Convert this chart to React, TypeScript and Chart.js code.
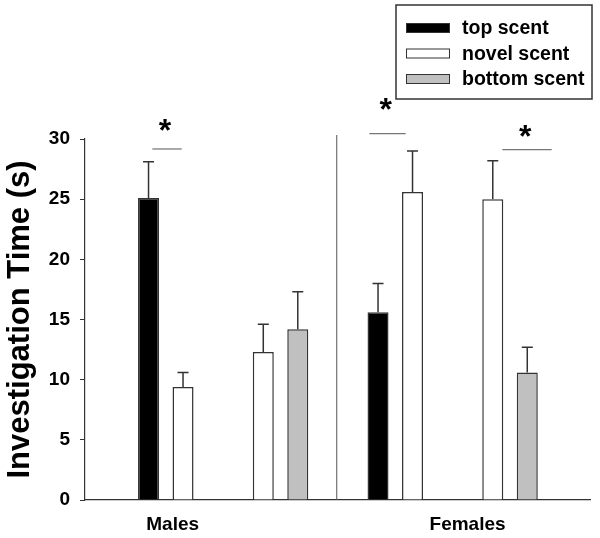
import React, { useEffect, useRef } from 'react';
import { Chart, registerables } from 'chart.js';

Chart.register(...registerables);

// ---- data ----
const seriesNames = ['top scent', 'novel scent', 'bottom scent'];
const subgroupIndex = [0, 1, 2, 3];
const topScent = [25.1, null, 15.6, null];
const topScentErr = [3.0, null, 2.4, null];
const novelScent = [9.4, 12.3, 25.6, 25.0];
const novelScentErr = [1.2, 2.3, 3.4, 3.2];
const bottomScent = [null, 14.2, null, 10.6];
const bottomScentErr = [null, 3.1, null, 2.1];
const groupLabels = ['Males', 'Females'];
const groupLabelAt = [0.06, 2.63];
const yTitle = 'Investigation Time (s)';
// significance brackets (data units: x = subgroup index, y = seconds)
const sigX0 = [-0.117, 1.774, 2.933];
const sigX1 = [0.139, 2.091, 3.363];
const sigY = [29.17, 30.44, 29.11];
const starX = [-0.007, 1.917, 3.133];
const starY = [31.2, 32.9, 30.7];
const dividerX = 1.49;
const dividerTop = 30.33;

const FONT = "Arial, 'Liberation Sans', Helvetica, sans-serif";
const fills = ['#000000', '#ffffff', '#c0c0c0'];

const toPoints = (vals: (number | null)[]) => vals.map((v, i) => ({ x: subgroupIndex[i], y: v }));

const errorBars = {
  id: 'errorBars',
  afterDatasetsDraw(chart: any) {
    const ctx = chart.ctx;
    const ys = chart.scales.y;
    chart.data.datasets.forEach((ds: any, di: number) => {
      const meta = chart.getDatasetMeta(di);
      meta.data.forEach((bar: any, i: number) => {
        const v = ds.data[i].y;
        const e = ds.errors[i];
        if (v == null || e == null) return;
        const top = ys.getPixelForValue(v + e);
        ctx.save();
        ctx.strokeStyle = '#333';
        ctx.lineWidth = 1.5;
        ctx.beginPath();
        ctx.moveTo(bar.x, bar.y);
        ctx.lineTo(bar.x, top);
        ctx.moveTo(bar.x - 5.5, top);
        ctx.lineTo(bar.x + 5.5, top);
        ctx.stroke();
        ctx.restore();
      });
    });
  },
};

const annotations = {
  id: 'annotations',
  afterDraw(chart: any) {
    const ctx = chart.ctx;
    const xs = chart.scales.x;
    const ys = chart.scales.y;
    ctx.save();
    // divider
    ctx.strokeStyle = '#555';
    ctx.lineWidth = 1;
    ctx.beginPath();
    ctx.moveTo(xs.getPixelForValue(dividerX), ys.getPixelForValue(dividerTop));
    ctx.lineTo(xs.getPixelForValue(dividerX), ys.getPixelForValue(0));
    ctx.stroke();
    // significance lines
    ctx.strokeStyle = '#555';
    sigY.forEach((y, i) => {
      ctx.beginPath();
      ctx.moveTo(xs.getPixelForValue(sigX0[i]), ys.getPixelForValue(y));
      ctx.lineTo(xs.getPixelForValue(sigX1[i]), ys.getPixelForValue(y));
      ctx.stroke();
    });
    // asterisks
    ctx.fillStyle = '#000';
    ctx.font = `bold 32px ${FONT}`;
    ctx.textAlign = 'center';
    ctx.textBaseline = 'alphabetic';
    const m = ctx.measureText('*');
    const glyphMid = (m.actualBoundingBoxAscent - m.actualBoundingBoxDescent) / 2;
    starX.forEach((x, i) => {
      ctx.fillText('*', xs.getPixelForValue(x), ys.getPixelForValue(starY[i]) + glyphMid);
    });
    // legend
    const bx = 396, by = 5, bw = 196, bh = 94;
    ctx.strokeStyle = '#333';
    ctx.lineWidth = 1.5;
    ctx.strokeRect(bx, by, bw, bh);
    ctx.font = `bold 19.5px ${FONT}`;
    ctx.textAlign = 'left';
    ctx.textBaseline = 'middle';
    seriesNames.forEach((name, i) => {
      const cy = 28 + i * 25.5;
      ctx.fillStyle = fills[i];
      ctx.fillRect(406, cy - 5, 44, 10);
      ctx.strokeStyle = '#333';
      ctx.lineWidth = 1;
      ctx.strokeRect(406.5, cy - 4.5, 43, 9);
      ctx.fillStyle = '#000';
      ctx.fillText(name, 462, cy + 1);
    });
    ctx.restore();
  },
};

export default function App() {
  const ref = useRef<HTMLCanvasElement | null>(null);
  useEffect(() => {
    if (!ref.current) return;
    const errs = [topScentErr, novelScentErr, bottomScentErr];
    const vals = [topScent, novelScent, bottomScent];
    const chart = new Chart(ref.current, {
      type: 'bar',
      data: {
        datasets: vals.map((v, i) => ({
          label: seriesNames[i],
          data: toPoints(v),
          errors: errs[i],
          backgroundColor: fills[i],
          borderColor: '#333',
          borderWidth: 1.5,
          skipNull: true,
          categoryPercentage: 0.6013,
          barPercentage: 0.609,
        })) as any,
      },
      options: {
        animation: false,
        responsive: false,
        layout: { padding: { top: 139, right: 10, left: 0, bottom: 0 } },
        plugins: { legend: { display: false }, tooltip: { enabled: false } },
        scales: {
          x: {
            type: 'linear',
            offset: false,
            bounds: 'data',
            min: -0.704,
            max: 3.697,
            grid: { display: false, drawTicks: false, offset: false },
            border: { display: true, color: '#333', width: 1.2 },
            afterBuildTicks: (scale: any) => {
              scale.ticks = groupLabelAt.map((v) => ({ value: v }));
            },
            afterFit: (scale: any) => {
              scale.height = 38;
            },
            ticks: {
              autoSkip: false,
              maxRotation: 0,
              padding: 13,
              color: '#000',
              font: { family: FONT, size: 19, weight: 'bold' },
              callback: (_v: any, i: number) => groupLabels[i],
            },
          },
          y: {
            min: 0,
            max: 30,
            grid: { drawOnChartArea: false, drawTicks: true, tickLength: 5, color: '#333' },
            border: { display: true, color: '#333', width: 1.2 },
            afterFit: (scale: any) => {
              scale.width = 85;
            },
            ticks: {
              stepSize: 5,
              padding: 10,
              color: '#000',
              font: { family: FONT, size: 19, weight: 'bold' },
            },
            title: {
              display: true,
              text: yTitle,
              color: '#000',
              padding: { top: 2, bottom: 0 },
              font: { family: FONT, size: 31, weight: 'bold' },
            },
          },
        },
      } as any,
      plugins: [errorBars, annotations],
    });
    return () => chart.destroy();
  }, []);
  return (
    <div style={{ position: 'absolute', left: 0, top: 0, width: 600, height: 538, background: '#fff' }}>
      <canvas ref={ref} width={600} height={538} />
    </div>
  );
}
